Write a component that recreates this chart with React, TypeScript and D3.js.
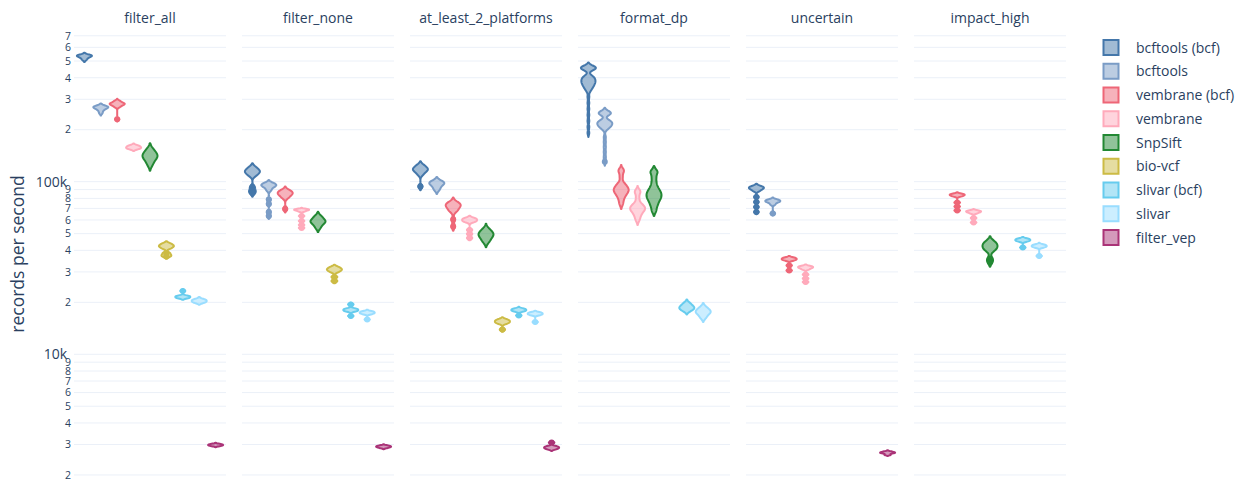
import React from "react";
import * as d3 from "d3";

const W = 1240;
const H = 479;
const FONT = '"Open Sans", verdana, arial, sans-serif';
const TEXT = "#2a3f5f";
const GRID = "#ebf0f8";

const tools = [
  "bcftools (bcf)",
  "bcftools",
  "vembrane (bcf)",
  "vembrane",
  "SnpSift",
  "bio-vcf",
  "slivar (bcf)",
  "slivar",
  "filter_vep",
];
const toolColors = [
  "#4477AA",
  "#7A9CC6",
  "#EE6677",
  "#FFAABB",
  "#228833",
  "#CCBB44",
  "#66CCEE",
  "#99DDFF",
  "#AA3377",
];
const facetNames = [
  "filter_all",
  "filter_none",
  "at_least_2_platforms",
  "format_dp",
  "uncertain",
  "impact_high",
];

// records per second, in thousands; one list per tool (order as `tools`)
const filterAllRuns: number[][] = [
  [542, 540, 537, 533, 528, 520, 508],
  [274.5, 272.7, 270.9, 269.1, 267.3, 263.8, 258.6, 250.1],
  [293.5, 287.6, 283.9, 282.0, 280.1, 276.4, 270.9],
  [162.1, 160.0, 157.9, 156.3, 154.5],
  [154.6, 148.6, 144.7, 141.9, 139.0, 136.3, 131.8, 125.0],
  [43.84, 42.97, 42.4, 41.84, 41.01],
  [21.85, 21.68, 21.48, 21.28, 21.11],
  [20.86, 20.61, 20.37, 20.12, 19.88],
  [3.022, 3.002, 2.982, 2.962, 2.942],
];
const filterAllOutliers: number[][] = [[], [], [229.9], [], [], [38.64, 37.62, 36.87], [23.28], [], []];

const filterNoneRuns: number[][] = [
  [121.7, 118.5, 116.1, 114.6, 113.0, 110.9, 107.9],
  [98.28, 96.98, 95.69, 95.05, 93.8, 91.93, 88.92],
  [89.51, 87.74, 86.57, 85.42, 84.28, 82.61, 80.43],
  [69.49, 69.03, 68.57, 68.11, 67.21],
  [63.29, 61.63, 59.99, 59.2, 58.41, 57.64, 56.13, 53.93],
  [32.06, 31.43, 31.0, 30.59, 29.98],
  [18.43, 18.23, 18.06, 17.89, 17.7],
  [17.75, 17.59, 17.43, 17.26, 17.1],
  [2.962, 2.935, 2.915, 2.896, 2.865],
];
const filterNoneOutliers: number[][] = [
  [93.17, 88.92, 85.99],
  [78.84, 74.29, 66.77, 63.29],
  [69.49],
  [63.29, 59.2, 56.13, 53.93],
  [],
  [28.04, 26.58],
  [19.44, 16.67],
  [15.91],
  [],
];

const atLeast2Runs: number[][] = [
  [125.0, 121.7, 119.3, 117.7, 116.1, 113.8, 109.9],
  [100.9, 99.6, 98.28, 96.98, 95.69, 92.54, 89.51],
  [76.25, 74.78, 73.78, 72.8, 71.84, 70.42, 68.57, 67.21],
  [61.61, 60.8, 59.99, 59.2, 58.41],
  [53.22, 51.47, 50.45, 49.45, 48.79, 47.82, 46.25, 44.73],
  [15.91, 15.7, 15.49, 15.28, 15.08],
  [18.43, 18.23, 18.06, 17.89, 17.7],
  [17.51, 17.35, 17.18, 17.03, 16.87],
  [2.935, 2.905, 2.877, 2.85, 2.815],
];
const atLeast2Outliers: number[][] = [
  [93.8],
  [],
  [60.39, 55.02],
  [52.51, 49.78, 47.18],
  [],
  [13.91],
  [16.78],
  [15.38],
  [3.08],
];

const formatDpRuns: number[][] = [
  [
    465.1, 463.2, 462.0, 459.0, 457.1, 455.9, 452.9, 449.9, 446.9, 443.9,
    412.5, 408.2, 404.4, 400.6, 396.9, 393.7, 390.6, 387.5, 384.4, 381.3, 378.3,
    375.3, 372.3, 369.3, 365.9, 362.5, 358.6, 354.8, 350.6, 345.9, 340.0, 331.9,
    309.5, 285.7, 263.8, 243.5, 224.8, 207.5, 191.5,
  ],
  [
    254.5, 252.8, 251.1, 249.4, 247.8, 246.1, 244.5,
    227.8, 225.7, 223.6, 221.8, 220.0, 218.3, 216.5, 214.8, 213.1, 211.1, 209.2, 206.9, 204.2, 200.7,
    181.5, 169.8, 158.9, 148.6, 139.0,
  ],
  [116.9, 114.6, 106.4, 98.28, 95.69, 93.8, 91.93, 90.71, 89.51, 88.32, 87.16, 85.41, 83.72, 81.52, 78.31, 74.24],
  [88.32, 86.57, 80.43, 75.24, 73.29, 71.84, 70.89, 69.95, 69.03, 68.11, 66.77, 65.01, 62.87, 59.99],
  [115.35, 112.3, 105.1, 98.28, 93.17, 90.11, 87.74, 86.0, 84.28, 82.61, 80.97, 79.36, 77.27, 74.74, 71.84, 67.66],
  [],
  [19.83, 19.31, 18.93, 18.68, 18.43, 18.19, 17.82],
  [18.8, 18.3, 17.94, 17.7, 17.47, 17.24, 16.78, 16.23],
  [],
];
const formatDpOutliers: number[][] = [[], [130.6], [], [], [], [], [], [], []];
// KDE bandwidth (log10 units) set explicitly for this facet; null = Silverman's rule
const formatDpBandwidth: (number | null)[] = [0.0116, 0.0116, 0.0145, 0.0145, 0.0145, null, null, null, null];

const uncertainRuns: number[][] = [
  [94.42, 93.17, 92.18, 91.32, 90.11, 88.32],
  [78.84, 78.0, 77.27, 76.57, 75.77, 73.78],
  [36.37, 35.99, 35.65, 35.32, 34.95],
  [32.48, 32.14, 31.85, 31.55, 31.0],
  [],
  [],
  [],
  [],
  [2.734, 2.705, 2.687, 2.669, 2.616],
];
const uncertainOutliers: number[][] = [
  [81.52, 76.25, 71.36, 66.77],
  [65.44],
  [32.7, 30.59],
  [28.99, 27.49, 26.23],
  [],
  [],
  [],
  [],
  [],
];

const impactHighRuns: number[][] = [
  [],
  [],
  [85.18, 84.39, 83.72, 83.05, 82.07],
  [68.11, 67.49, 66.96, 66.43, 65.46],
  [45.32, 44.13, 43.26, 42.4, 41.56, 40.74, 39.69],
  [],
  [46.87, 46.37, 45.94, 45.51, 45.03],
  [43.26, 42.8, 42.4, 41.99, 41.56],
  [],
];
const impactHighOutliers: number[][] = [[], [], [75.74, 71.84, 68.11], [61.61, 58.02], [35.89, 34.25], [], [41.56], [37.12], []];

const facetRuns = [filterAllRuns, filterNoneRuns, atLeast2Runs, formatDpRuns, uncertainRuns, impactHighRuns];
const facetOutliers = [filterAllOutliers, filterNoneOutliers, atLeast2Outliers, formatDpOutliers, uncertainOutliers, impactHighOutliers];
const facetBandwidth: ((number | null)[] | null)[] = [null, null, null, formatDpBandwidth, null, null];

// ---- layout ----
const plotTop = 27;
const plotBottom = 479;
const yScale = d3.scaleLog().domain([Math.pow(10, 3.2775), Math.pow(10, 5.896)]).range([plotBottom, plotTop]);
const facetScale = d3.scaleBand<string>().domain(facetNames).range([74, 1066]).paddingInner(0.0952).paddingOuter(0);
const FW = facetScale.bandwidth();
const slotScale = d3.scalePoint<string>().domain(tools).range([FW / 2 - 65.6, FW / 2 + 65.6]);
const HALF_W = 7.5;

function silverman(vals: number[]): number {
  const s = vals.slice().sort(d3.ascending);
  const sd = d3.deviation(s) ?? 0;
  const iqr = (d3.quantile(s, 0.75) ?? 0) - (d3.quantile(s, 0.25) ?? 0);
  let a = Math.min(sd, iqr / 1.349);
  if (!(a > 0)) a = sd > 0 ? sd : 0.003;
  return 1.059 * a * Math.pow(s.length, -0.2);
}

type DPt = { t: number; w: number };
function violinDensity(main: number[], outl: number[], bwOverride: number | null): DPt[] {
  const mainL = main.map((v) => Math.log10(v * 1000));
  const allL = mainL.concat(outl.map((v) => Math.log10(v * 1000)));
  const bw = bwOverride ?? silverman(mainL);
  const lo = (d3.min(allL) as number) - 2 * bw;
  const hi = (d3.max(allL) as number) + 2 * bw;
  const n = Math.ceil((hi - lo) / (bw / 3));
  const step = (hi - lo) / n;
  const pts = d3.range(n + 1).map((k) => {
    const t = lo + k * step;
    const d = d3.sum(allL, (x) => Math.exp(-0.5 * ((t - x) / bw) ** 2));
    return { t, d };
  });
  const maxD = d3.max(pts, (p) => p.d) as number;
  return pts.map((p) => ({ t: p.t, w: p.d / maxD }));
}

function gridValues(): number[] {
  const out: number[] = [];
  const [d0, d1] = yScale.domain();
  for (let e = 3; e <= 5; e++) {
    for (let m = 1; m <= 9; m++) {
      const v = m * Math.pow(10, e);
      if (v >= d0 && v <= d1) out.push(v);
    }
  }
  return out;
}

export default function App() {
  const grid = gridValues();
  const fmt = d3.format("~s");
  return (
    <svg
      width={W}
      height={H}
      style={{ position: "absolute", left: 0, top: 0, display: "block", background: "#fff" }}
      fontFamily={FONT}
    >
      <rect x={0} y={0} width={W} height={H} fill="#fff" />
      {facetNames.map((f) => {
        const x0 = facetScale(f) as number;
        return (
          <g key={f}>
            {grid.map((v) => (
              <line key={v} x1={x0} x2={x0 + FW} y1={yScale(v)} y2={yScale(v)} stroke={GRID} strokeWidth={1} />
            ))}
            <text x={x0 + FW / 2} y={22.7} textAnchor="middle" fontSize={14} fill={TEXT}>
              {f}
            </text>
          </g>
        );
      })}
      {grid.map((v) => {
        const m = Math.round(v / Math.pow(10, Math.floor(Math.log10(v) + 1e-9)));
        const major = m === 1;
        const fs = major ? 14 : 10.5;
        return (
          <text
            key={"t" + v}
            x={major ? 67 : 71}
            y={yScale(v) + fs * 0.36}
            textAnchor="end"
            fontSize={fs}
            fill={TEXT}
          >
            {major ? fmt(v) : String(m)}
          </text>
        );
      })}
      <text
        transform={`translate(23.5, 254) rotate(-90)`}
        textAnchor="middle"
        fontSize={17.5}
        fill={TEXT}
      >
        records per second
      </text>
      {facetNames.map((f, fi) => {
        const x0 = facetScale(f) as number;
        const runs = facetRuns[fi];
        const outs = facetOutliers[fi];
        const bws = facetBandwidth[fi];
        return (
          <g key={"v" + f}>
            {tools.map((tool, ti) => {
              const main = runs[ti];
              if (!main || main.length === 0) return null;
              const outl = outs[ti] || [];
              const cx = x0 + (slotScale(tool) as number);
              const dens = violinDensity(main, outl, bws ? bws[ti] : null);
              const area = d3
                .area<DPt>()
                .y((p) => yScale(Math.pow(10, p.t)))
                .x0((p) => cx - p.w * HALF_W)
                .x1((p) => cx + p.w * HALF_W);
              const col = toolColors[ti];
              return (
                <g key={tool}>
                  <path
                    d={area(dens) || ""}
                    fill={col}
                    fillOpacity={0.5}
                    stroke={col}
                    strokeWidth={2}
                    strokeLinejoin="round"
                  />
                  {outl.map((v, k) => (
                    <circle key={k} cx={cx} cy={yScale(v * 1000)} r={3} fill={col} />
                  ))}
                </g>
              );
            })}
          </g>
        );
      })}
      {tools.map((tool, ti) => {
        const cy = 47.5 + ti * 23.75;
        const col = toolColors[ti];
        return (
          <g key={"l" + tool}>
            <rect x={1103.5} y={cy - 7.5} width={15} height={15} fill={col} fillOpacity={0.5} stroke={col} strokeWidth={2} />
            <text x={1136} y={cy + 5} fontSize={14} fill={TEXT}>
              {tool}
            </text>
          </g>
        );
      })}
    </svg>
  );
}
